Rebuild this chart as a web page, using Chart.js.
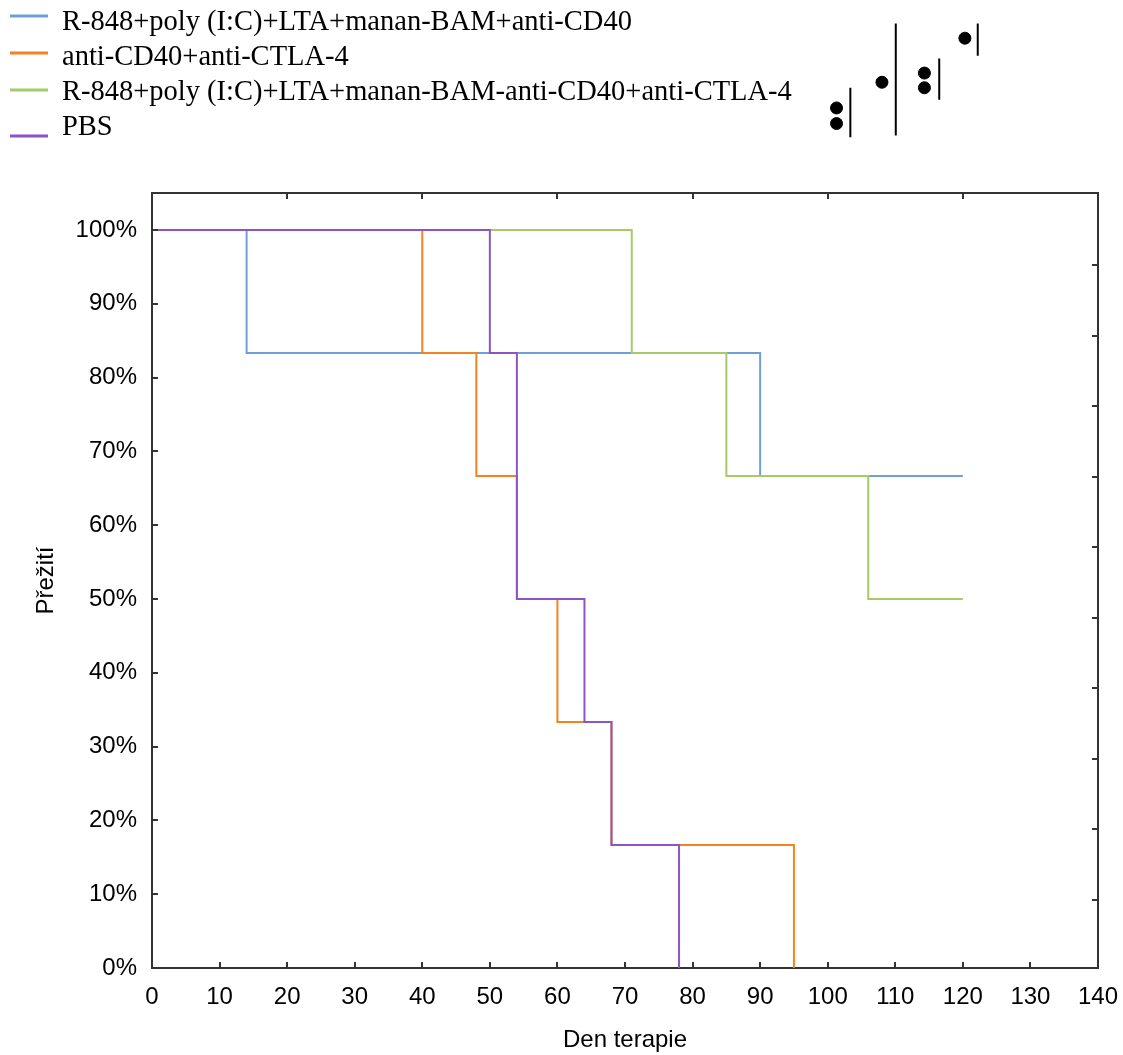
<!DOCTYPE html>
<html>
  <head>
    <title>Přežití</title>
    <script src="https://cdn.jsdelivr.net/npm/chart.js"></script>
    <style>
      body { margin: 0; background: #fff; }
      #wrap { position: relative; width: 1123px; height: 1055px; }
      #wrap canvas { position: absolute; left: 0; top: 0; }
    </style>
  </head>
  <body>
    <div id="wrap">
      <canvas id="survival-chart" width="1123" height="1055"></canvas>
      <canvas id="sig-marks" width="1123" height="170"></canvas>
    </div>

    <script>
      // Group names (legend order)
      const groupLabels = [
        "R-848+poly (I:C)+LTA+manan-BAM+anti-CD40",
        "anti-CD40+anti-CTLA-4",
        "R-848+poly (I:C)+LTA+manan-BAM-anti-CD40+anti-CTLA-4",
        "PBS",
      ];

      // Kaplan-Meier steps: day of event and survival (%) after it
      const blueDays = [0, 14, 90, 120];
      const blueSurvival = [100, 83.33, 66.67, 66.67];
      const orangeDays = [0, 40, 48, 54, 60, 68, 95];
      const orangeSurvival = [100, 83.33, 66.67, 50, 33.33, 16.67, 0];
      const greenDays = [0, 71, 85, 106, 120];
      const greenSurvival = [100, 83.33, 66.67, 50, 50];
      const purpleDays = [0, 50, 54, 64, 68, 78];
      const purpleSurvival = [100, 83.33, 50, 33.33, 16.67, 0];

      // significance markers above the plot (bars with dots)
      const sigBarX = [854, 900, 944, 983];
      const sigBarTop = [88, 18, 56, 18];
      const sigBarBottom = [142, 140, 101, 53];
      const sigDotX = [840, 840, 886, 929, 929, 970];
      const sigDotY = [110, 127, 82, 72, 88, 34];

      const colors = ["#6f9fd8", "#f58220", "#a6c96a", "#8c55c2"];
      const sansFont = '"Liberation Sans", Arial, sans-serif';

      function toPoints(days, surv) {
        return days.map((d, i) => ({ x: d, y: surv[i] }));
      }

      // legend drawn as a plain column at the top-left
      const columnLegend = {
        id: "columnLegend",
        afterDraw(chart) {
          const ctx = chart.ctx;
          const lineY = [16, 53, 90, 136];
          ctx.save();
          ctx.font = '28.5px "Liberation Serif", "Times New Roman", serif';
          ctx.textBaseline = "middle";
          chart.data.datasets.forEach((ds, i) => {
            const y = 23 + i * 35;
            ctx.strokeStyle = ds.borderColor;
            ctx.lineWidth = 3;
            ctx.beginPath();
            ctx.moveTo(10, lineY[i]);
            ctx.lineTo(48, lineY[i]);
            ctx.stroke();
            ctx.fillStyle = "#000";
            ctx.fillText(ds.label, 62, y);
          });
          ctx.restore();
        },
      };

      // small tick marks pointing into the plot box
      const innerTicks = {
        id: "innerTicks",
        afterDraw(chart) {
          const ctx = chart.ctx;
          const a = chart.chartArea;
          const len = 6;
          ctx.save();
          ctx.strokeStyle = "#333";
          ctx.lineWidth = 2;
          ctx.beginPath();
          ["x", "xTop"].forEach((id) => {
            const s = chart.scales[id];
            s.ticks.forEach((t) => {
              const p = Math.round(s.getPixelForValue(t.value));
              if (p <= a.left + 1 || p >= a.right - 1) return;
              if (id === "x") {
                ctx.moveTo(p, a.bottom);
                ctx.lineTo(p, a.bottom - len);
              } else {
                ctx.moveTo(p, a.top);
                ctx.lineTo(p, a.top + len);
              }
            });
          });
          ["y", "yRight"].forEach((id) => {
            const s = chart.scales[id];
            s.ticks.forEach((t) => {
              const p = Math.round(s.getPixelForValue(t.value));
              if (p <= a.top + 1 || p >= a.bottom - 1) return;
              if (id === "y") {
                ctx.moveTo(a.left, p);
                ctx.lineTo(a.left + len, p);
              } else {
                ctx.moveTo(a.right, p);
                ctx.lineTo(a.right - len, p);
              }
            });
          });
          ctx.stroke();
          ctx.restore();
        },
      };

      const seriesDays = [blueDays, orangeDays, greenDays, purpleDays];
      const seriesSurvival = [blueSurvival, orangeSurvival, greenSurvival, purpleSurvival];
      const drawOrder = [3, 1, 2, 0];

      const ctx = document.getElementById("survival-chart").getContext("2d");
      new Chart(ctx, {
        type: "line",
        data: {
          datasets: groupLabels.map((label, i) => ({
            label: label,
            data: toPoints(seriesDays[i], seriesSurvival[i]),
            borderColor: colors[i],
            backgroundColor: colors[i],
            borderWidth: 2,
            stepped: "before",
            pointRadius: 0,
            fill: false,
            order: drawOrder[i],
          })),
        },
        options: {
          responsive: false,
          animation: false,
          devicePixelRatio: 1,
          layout: { padding: 0 },
          plugins: {
            legend: { display: false },
            tooltip: { enabled: false },
          },
          scales: {
            x: {
              type: "linear",
              position: "bottom",
              min: 0,
              max: 140,
              grid: { display: false },
              border: { display: true, color: "#333", width: 2 },
              ticks: {
                stepSize: 10,
                autoSkip: false,
                maxRotation: 0,
                padding: 7,
                color: "#000",
                font: { family: sansFont, size: 24 },
              },
              title: {
                display: true,
                text: "Den terapie",
                color: "#000",
                font: { family: sansFont, size: 24 },
                padding: 0,
              },
              afterFit(s) {
                s.height = 87;
                s.paddingLeft = 0;
                s.paddingRight = 0;
              },
            },
            xTop: {
              type: "linear",
              position: "top",
              min: 0,
              max: 140,
              grid: { display: false },
              border: { display: true, color: "#333", width: 2 },
              ticks: { display: false, stepSize: 20 },
              afterFit(s) {
                s.height = 193;
                s.paddingLeft = 0;
                s.paddingRight = 0;
              },
            },
            y: {
              type: "linear",
              position: "left",
              min: 0,
              max: 105,
              grid: { display: false },
              border: { display: true, color: "#333", width: 2 },
              ticks: {
                stepSize: 10,
                includeBounds: false,
                padding: 7,
                color: "#000",
                font: { family: sansFont, size: 24 },
                callback: (v) => v + "%",
              },
              title: {
                display: true,
                text: "Přežití",
                color: "#000",
                font: { family: sansFont, size: 24 },
                padding: { top: 32, bottom: 0 },
              },
              afterFit(s) { s.width = 152; },
            },
            yRight: {
              type: "linear",
              position: "right",
              min: 0.036,
              max: 11.02,
              grid: { display: false },
              border: { display: true, color: "#333", width: 2 },
              ticks: { display: false, stepSize: 1, includeBounds: false },
              afterFit(s) { s.width = 25; },
            },
          },
        },
        plugins: [columnLegend, innerTicks],
      });

      // significance bars and dots, drawn on a transparent overlay chart
      const sigDatasets = sigBarX.map((x, i) => ({
        type: "line",
        data: [
          { x: x, y: sigBarTop[i] },
          { x: x, y: sigBarBottom[i] },
        ],
        borderColor: "#000",
        borderWidth: 2,
        pointRadius: 0,
        showLine: true,
      }));
      sigDatasets.push({
        type: "scatter",
        data: sigDotX.map((x, i) => ({ x: x, y: sigDotY[i] })),
        backgroundColor: "#000",
        borderColor: "#000",
        pointRadius: 6,
      });

      new Chart(document.getElementById("sig-marks").getContext("2d"), {
        type: "scatter",
        data: { datasets: sigDatasets },
        options: {
          responsive: false,
          animation: false,
          devicePixelRatio: 1,
          layout: { padding: 0 },
          plugins: {
            legend: { display: false },
            tooltip: { enabled: false },
          },
          scales: {
            x: { type: "linear", min: 0, max: 1123, display: false },
            y: { type: "linear", min: 0, max: 170, reverse: true, display: false },
          },
        },
      });
    </script>
  </body>
</html>
